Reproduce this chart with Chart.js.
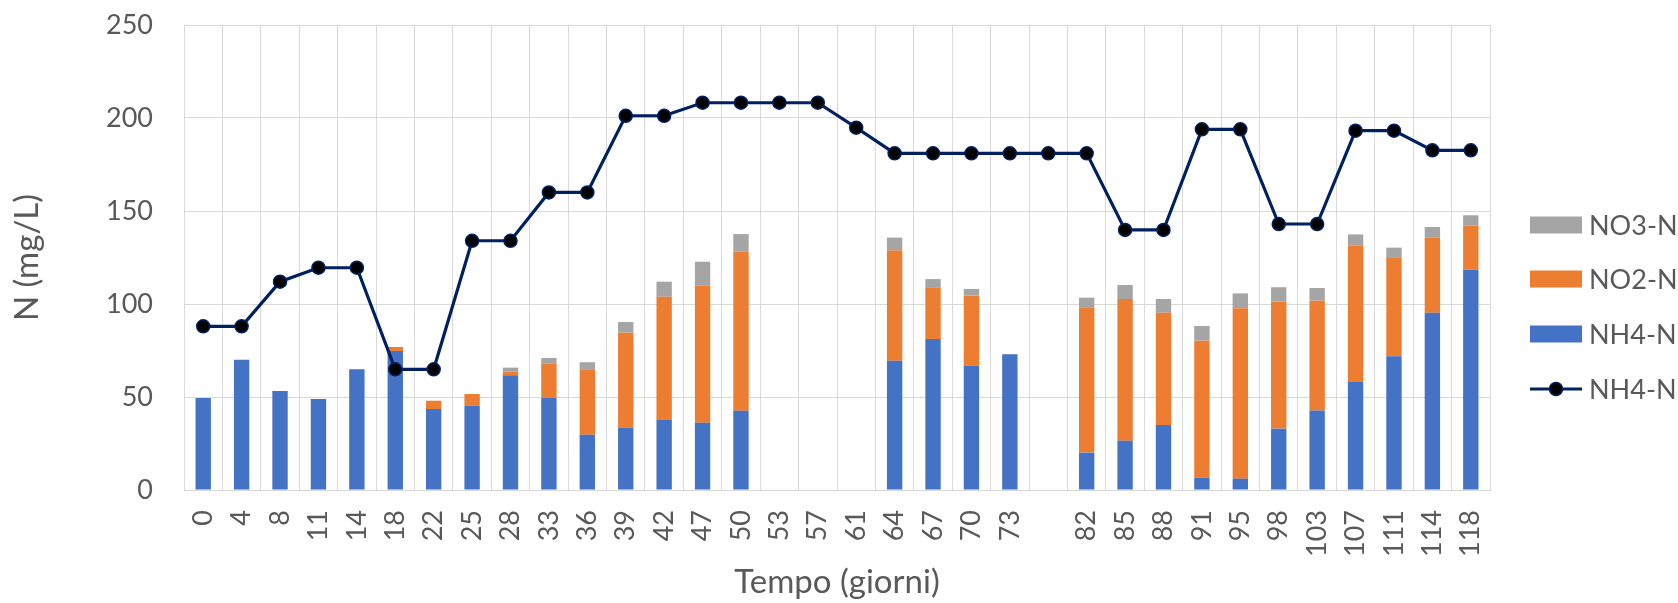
<!DOCTYPE html>
<html><head><meta charset="utf-8">
<script src="https://cdn.jsdelivr.net/npm/chart.js@4.4.1/dist/chart.umd.min.js"></script>
<style>html,body{margin:0;padding:0;background:#fff;}canvas{display:block}</style>
</head><body>
<canvas id="c" width="1678" height="603"></canvas>
<script>
const days = ['0','4','8','11','14','18','22','25','28','33','36','39','42','47','50','53','57','61','64','67','70','73','','82','85','88','91','95','98','103','107','111','114','118'];
const nh4Bar = [49.5,70,53.2,48.9,64.9,74.7,43.5,45.2,61.7,49.6,29.7,33.5,37.6,36.2,42.6,null,null,null,69.5,81.2,66.8,73.0,null,20.1,26.5,34.9,6.6,6.1,33.0,42.8,58.1,71.9,95.3,118.6];
const no2Bar = [null,null,null,null,null,2.2,4.5,6.4,1.9,18.5,35.2,51.1,66.3,73.6,85.5,null,null,null,59.2,27.8,37.7,null,null,78.1,76.2,60.4,73.7,91.6,68.4,59.0,73.3,53.2,40.4,23.5];
const no3Bar = [null,null,null,null,null,null,null,null,2.2,2.9,3.8,5.7,8.1,12.9,9.5,null,null,null,7.0,4.4,3.6,null,null,5.2,7.5,7.4,7.9,8.0,7.6,6.8,6.0,5.2,5.7,5.6];
const nh4Line = [88,88,112,119.5,119.5,64.9,64.9,134,134,160,160,201.2,201.2,208.2,208.2,208.2,208.2,194.8,181,181,181,181,181,181,139.8,139.8,193.9,193.9,143,143,193.2,193.2,182.6,182.6];
const yTicks = [0,50,100,150,200,250];

const FONT = 'Lato';
const TXT = '#595959';
const GRID = '#D9D9D9';

const legendPlugin = {
  id: 'sideLegend',
  afterDraw(chart) {
    const ctx = chart.ctx;
    const ds = chart.data.datasets.slice().reverse();
    const x0 = 1530, w = 52, h = 17, tx = 1589;
    const ys = [225, 279, 334, 389];
    ctx.save();
    ctx.font = '27px ' + FONT;
    ctx.textBaseline = 'middle';
    ctx.textAlign = 'left';
    ds.forEach((d, i) => {
      const y = ys[i];
      if (d.type === 'line') {
        ctx.strokeStyle = d.borderColor; ctx.lineWidth = d.borderWidth;
        ctx.beginPath(); ctx.moveTo(x0, y); ctx.lineTo(x0 + w, y); ctx.stroke();
        ctx.fillStyle = d.pointBackgroundColor; ctx.strokeStyle = d.pointBorderColor; ctx.lineWidth = 1.5;
        ctx.beginPath(); ctx.arc(x0 + w / 2, y, d.pointRadius, 0, Math.PI * 2); ctx.fill(); ctx.stroke();
      } else {
        ctx.fillStyle = d.backgroundColor;
        ctx.fillRect(x0, y - h / 2, w, h);
      }
      ctx.fillStyle = TXT;
      ctx.fillText(d.label, tx, y + 1);
    });
    ctx.restore();
  }
};

new Chart(document.getElementById('c'), {
  data: {
    labels: days,
    datasets: [
      { type: 'line', label: 'NH4-N', data: nh4Line, stack: 'line', borderColor: '#002060', borderWidth: 3.2,
        pointRadius: 6.5, pointBackgroundColor: '#000000', pointBorderColor: '#002060', pointBorderWidth: 1.5,
        tension: 0, fill: false },
      { type: 'bar', label: 'NH4-N', data: nh4Bar, stack: 'bars', backgroundColor: '#4472C4', borderWidth: 0 },
      { type: 'bar', label: 'NO2-N', data: no2Bar, stack: 'bars', backgroundColor: '#ED7D31', borderWidth: 0 },
      { type: 'bar', label: 'NO3-N', data: no3Bar, stack: 'bars', backgroundColor: '#A5A5A5', borderWidth: 0 }
    ]
  },
  options: {
    responsive: false,
    animation: false,
    devicePixelRatio: 1,
    layout: { padding: { left: 0, right: 188, top: 25, bottom: 0 } },
    datasets: { bar: { barPercentage: 0.4, categoryPercentage: 1.0 } },
    plugins: { legend: { display: false }, tooltip: { enabled: false } },
    scales: {
      x: {
        stacked: true,
        offset: true,
        grid: { offset: true, color: GRID, lineWidth: 1, drawTicks: false },
        border: { color: GRID, width: 1 },
        ticks: { minRotation: 90, maxRotation: 90, autoSkip: false, padding: 20, color: TXT, font: { family: FONT, size: 27 } },
        title: { display: true, text: 'Tempo (giorni)', color: TXT, font: { family: FONT, size: 33 }, padding: { top: 0, bottom: 1 } },
        afterFit(s) { s.height = 113; s.paddingLeft = 0; s.paddingRight = 0; s.paddingTop = 0; s.paddingBottom = 0; }
      },
      y: {
        stacked: true,
        min: 0, max: 250,
        afterBuildTicks(s) { s.ticks = yTicks.map(v => ({ value: v })); },
        grid: { color: GRID, lineWidth: 1, drawTicks: false },
        border: { color: GRID, width: 1 },
        ticks: { padding: 31, color: TXT, font: { family: FONT, size: 27 } },
        title: { display: true, text: 'N (mg/L)', color: TXT, font: { family: FONT, size: 33 }, padding: { top: 8, bottom: 0 } },
        afterFit(s) { s.width = 184; s.paddingTop = 0; s.paddingBottom = 0; s.paddingLeft = 0; s.paddingRight = 0; }
      }
    }
  },
  plugins: [legendPlugin]
});
</script>
</body></html>
